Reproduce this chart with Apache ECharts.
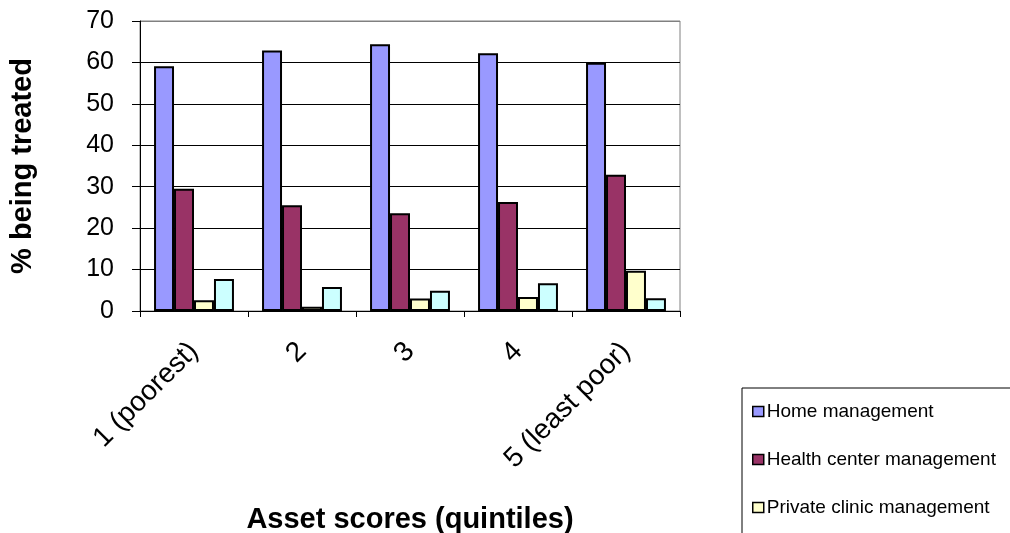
<!DOCTYPE html>
<html>
<head>
<meta charset="utf-8">
<script src="https://cdn.jsdelivr.net/npm/echarts@6/dist/echarts.min.js"></script>
<style>html,body{margin:0;padding:0;background:#fff;}#c{width:1010px;height:533px;}</style>
</head>
<body>
<div id="c"></div>
<script>
const categories = ['1 (poorest)', '2', '3', '4', '5 (least poor)'];
const homeMgmt = [59.1, 62.9, 64.4, 62.2, 59.9];
const healthCenterMgmt = [29.5, 25.5, 23.6, 26.3, 32.9];
const privateClinicMgmt = [2.6, 1.0, 3.0, 3.4, 9.7];
const otherMgmt = [7.7, 5.8, 4.9, 6.7, 3.1];
const seriesNames = ['Home management', 'Health center management', 'Private clinic management', 'Other management'];
const seriesColors = ['#9999FF', '#993366', '#FFFFCC', '#CCFFFF'];
const yTicks = [0, 10, 20, 30, 40, 50, 60, 70];

const font = 'Arial, "Liberation Sans", sans-serif';
const chart = echarts.init(document.getElementById('c'));
const dataSets = [homeMgmt, healthCenterMgmt, privateClinicMgmt, otherMgmt];

chart.setOption({
  animation: false,
  textStyle: { fontFamily: font },
  grid: { left: 140, top: 21, right: 330, bottom: 222, outerBoundsMode: 'none', containLabel: false, show: true, borderColor: '#808080', borderWidth: 1, backgroundColor: 'transparent' },
  legend: {
    orient: 'vertical',
    left: 742, top: 388,
    height: 400,
    padding: [14, 60, 14, 10],
    itemGap: 29,
    itemWidth: 11, itemHeight: 10,
    borderColor: '#000', borderWidth: 1,
    textStyle: { fontSize: 19, color: '#000', fontFamily: font, padding: [0, 0, 0, -2] },
    data: seriesNames.map(n => ({ name: n, icon: 'rect', itemStyle: { borderColor: '#000', borderWidth: 1.5 } }))
  },
  xAxis: {
    type: 'category',
    data: categories,
    name: 'Asset scores (quintiles)',
    nameLocation: 'middle',
    nameGap: 194,
    nameTextStyle: { fontSize: 29, fontWeight: 'bold', color: '#000', fontFamily: font },
    axisLine: { lineStyle: { color: '#000', width: 1 } },
    axisTick: { show: true, length: 6, lineStyle: { color: '#000' } },
    axisLabel: { rotate: 45, fontSize: 28, color: '#000', margin: 36, fontFamily: font }
  },
  yAxis: {
    type: 'value',
    min: yTicks[0], max: yTicks[yTicks.length - 1], interval: 10,
    name: '% being treated',
    nameLocation: 'middle',
    nameGap: 103,
    nameTextStyle: { fontSize: 29, fontWeight: 'bold', color: '#000', fontFamily: font },
    axisLine: { show: true, lineStyle: { color: '#000', width: 1 } },
    axisTick: { show: true, length: 8, lineStyle: { color: '#000' } },
    axisLabel: { fontSize: 25, color: '#000', margin: 26, fontFamily: font },
    splitLine: { show: true, lineStyle: { color: ['#000', '#000', '#000', '#000', '#000', '#000', '#000', '#808080'], width: 1 } }
  },
  series: dataSets.map((d, i) => ({
    name: seriesNames[i],
    type: 'bar',
    data: d,
    barGap: 0,
    barCategoryGap: '26%',
    itemStyle: { color: seriesColors[i], borderColor: '#000', borderWidth: 2 }
  }))
});
</script>
</body>
</html>
